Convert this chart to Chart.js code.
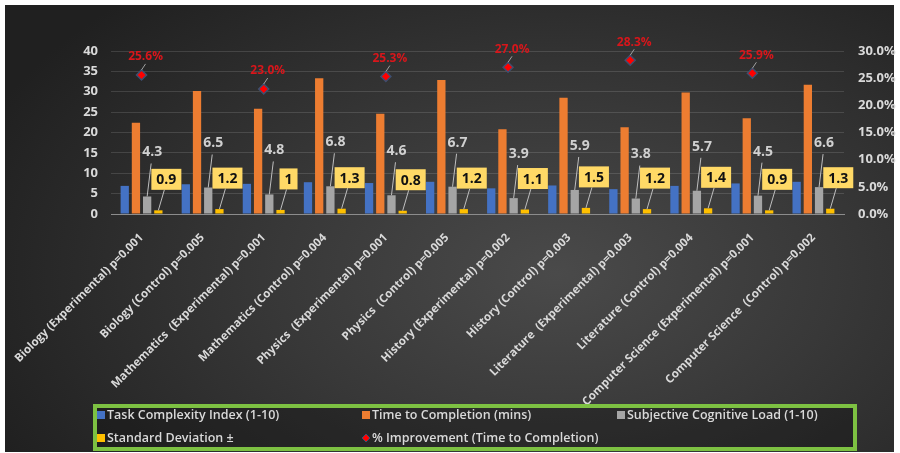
<!DOCTYPE html>
<html>
<head>
<meta charset="utf-8">
<script src="https://cdn.jsdelivr.net/npm/chart.js@4.4.1/dist/chart.umd.min.js"></script>
<style>
    html, body { margin: 0; padding: 0; background: #fff; }
    #wrap { position: relative; width: 900px; height: 453px; }
    #panel {
        position: absolute; left: 5px; top: 5px; width: 889px; height: 447px;
        background: radial-gradient(ellipse 70% 85% at 62% 60%, #4a4a4a 0%, #383838 45%, #202020 100%);
    }
    canvas { position: absolute; left: 0; top: 0; }
</style>
</head>
<body>
<div id="wrap">
    <div id="panel"></div>
    <canvas id="studyChart" width="900" height="453"></canvas>
</div>
<script>
const categories = [
    'Biology (Experimental) p=0.001',
    'Biology (Control) p=0.005',
    'Mathematics  (Experimental) p=0.001',
    'Mathematics (Control) p=0.004',
    'Physics  (Experimental) p=0.001',
    'Physics  (Control) p=0.005',
    'History (Experimental) p=0.002',
    'History (Control) p=0.003',
    'Literature  (Experimental) p=0.003',
    'Literature (Control) p=0.004',
    'Computer Science (Experimental) p=0.001',
    'Computer Science  (Control) p=0.002'
];
const taskComplexity = [6.9, 7.3, 7.4, 7.8, 7.6, 7.9, 6.3, 7.0, 6.1, 6.9, 7.5, 7.9];
const timeToCompletion = [22.4, 30.2, 25.8, 33.3, 24.6, 32.9, 20.8, 28.5, 21.3, 29.8, 23.5, 31.7];
const cognitiveLoad = [4.3, 6.5, 4.8, 6.8, 4.6, 6.7, 3.9, 5.9, 3.8, 5.7, 4.5, 6.6];
const stdDeviation = [0.9, 1.2, 1, 1.3, 0.8, 1.2, 1.1, 1.5, 1.2, 1.4, 0.9, 1.3];
// only experimental groups carry an improvement value
const improvement = [25.6, null, 23.0, null, 25.3, null, 27.0, null, 28.3, null, 25.9, null];

const FONT = '"Open Sans", sans-serif';
const TEXT_COLOR = '#d9d9d9';

// value labels with leader lines (gray load, yellow std dev boxes, red %)
const valueLabels = {
    id: 'valueLabels',
    afterDatasetsDraw(chart) {
        const ctx = chart.ctx;
        ctx.save();
        ctx.lineWidth = 1;
        ctx.textAlign = 'center';
        ctx.textBaseline = 'middle';

        chart.getDatasetMeta(2).data.forEach((bar, i) => {
            const tx = bar.x + 5, ty = bar.y - 44;
            ctx.strokeStyle = '#bfbfbf';
            ctx.beginPath();
            ctx.moveTo(bar.x, bar.y);
            ctx.lineTo(tx - 1, ty + 11);
            ctx.stroke();
            ctx.font = 'bold 14px ' + FONT;
            ctx.fillStyle = '#d0d0d0';
            ctx.fillText(String(cognitiveLoad[i]), tx, ty);
        });

        chart.getDatasetMeta(3).data.forEach((bar, i) => {
            const text = String(stdDeviation[i]);
            ctx.font = 'bold 14px ' + FONT;
            const w = ctx.measureText(text).width + 10, h = 21;
            const cx = bar.x + 8, cy = bar.y - 31;
            ctx.strokeStyle = '#bfbfbf';
            ctx.beginPath();
            ctx.moveTo(bar.x, bar.y);
            ctx.lineTo(cx - 2, cy + h / 2);
            ctx.stroke();
            ctx.fillStyle = '#ffd966';
            ctx.fillRect(cx - w / 2, cy - h / 2, w, h);
            ctx.fillStyle = '#111';
            ctx.fillText(text, cx, cy + 1);
        });

        chart.getDatasetMeta(4).data.forEach((pt, i) => {
            if (improvement[i] === null) return;
            const tx = pt.x + 4, ty = pt.y - 18;
            ctx.strokeStyle = '#a0a0a0';
            ctx.beginPath();
            ctx.moveTo(pt.x, pt.y - 5);
            ctx.lineTo(tx, ty + 7);
            ctx.stroke();
            ctx.font = 'bold 12px ' + FONT;
            ctx.fillStyle = '#d8161b';
            ctx.fillText(improvement[i].toFixed(1) + '%', tx, ty);
        });
        ctx.restore();
    }
};

// legend in a green framed box, three columns
const boxLegend = {
    id: 'boxLegend',
    afterDraw(chart) {
        const ctx = chart.ctx;
        const box = { x: 95, y: 406, w: 760, h: 43 };
        const cols = [97, 362, 617];
        const rows = [415, 438];
        ctx.save();
        ctx.fillStyle = 'rgba(15,15,15,0.35)';
        ctx.fillRect(box.x, box.y, box.w, box.h);
        ctx.strokeStyle = '#7dc142';
        ctx.lineWidth = 4;
        ctx.strokeRect(box.x, box.y, box.w, box.h);

        ctx.font = '600 12.5px ' + FONT;
        ctx.textBaseline = 'middle';
        ctx.textAlign = 'left';
        chart.data.datasets.forEach((ds, i) => {
            const x = cols[i % 3], y = rows[Math.floor(i / 3)];
            if (ds.type === 'line') {
                ctx.fillStyle = ds.backgroundColor;
                ctx.strokeStyle = ds.borderColor;
                ctx.lineWidth = 1;
                ctx.beginPath();
                ctx.moveTo(x + 4, y - 4);
                ctx.lineTo(x + 8, y);
                ctx.lineTo(x + 4, y + 4);
                ctx.lineTo(x, y);
                ctx.closePath();
                ctx.fill();
                ctx.stroke();
            } else {
                ctx.fillStyle = ds.backgroundColor;
                ctx.fillRect(x, y - 4, 8, 8);
            }
            ctx.fillStyle = TEXT_COLOR;
            ctx.fillText(ds.label, x + 10, y);
        });
        ctx.restore();
    }
};

const ctx = document.getElementById('studyChart').getContext('2d');

new Chart(ctx, {
    type: 'bar',
    data: {
        labels: categories,
        datasets: [
            { label: 'Task Complexity Index (1-10)', data: taskComplexity, backgroundColor: '#4472c4', order: 1 },
            { label: 'Time to Completion (mins)', data: timeToCompletion, backgroundColor: '#ed7d31', order: 1 },
            { label: 'Subjective Cognitive Load (1-10)', data: cognitiveLoad, backgroundColor: '#a5a5a5', order: 1 },
            { label: 'Standard Deviation ±', data: stdDeviation, backgroundColor: '#ffc000', order: 1 },
            {
                type: 'line',
                label: '% Improvement (Time to Completion)',
                data: improvement,
                yAxisID: 'y1',
                showLine: false,
                pointStyle: 'rectRot',
                pointRadius: 5,
                backgroundColor: '#ff0000',
                borderColor: '#3d4f70',
                borderWidth: 1.5,
                order: 0
            }
        ]
    },
    options: {
        responsive: false,
        animation: false,
        categoryPercentage: 0.734,
        barPercentage: 0.74,
        layout: { padding: { top: 51, left: 0, right: 0, bottom: 0 } },
        plugins: {
            legend: { display: false },
            tooltip: { enabled: false }
        },
        scales: {
            x: {
                grid: { display: false },
                border: { display: true, color: '#8c8c8c', width: 1 },
                ticks: {
                    autoSkip: false,
                    minRotation: 45,
                    maxRotation: 45,
                    padding: 9,
                    color: TEXT_COLOR,
                    font: { family: FONT, size: 11.5, weight: 'bold' }
                },
                afterFit: scale => { scale.height = 239; }
            },
            y: {
                position: 'left',
                min: 0,
                max: 40,
                grid: { color: 'rgba(255,255,255,0.13)', drawTicks: false },
                border: { display: false },
                ticks: {
                    stepSize: 5,
                    padding: 13,
                    color: TEXT_COLOR,
                    font: { family: FONT, size: 13, weight: 'bold' }
                },
                afterFit: scale => { scale.width = 111; }
            },
            y1: {
                position: 'right',
                min: 0,
                max: 30,
                grid: { drawOnChartArea: false, drawTicks: false },
                border: { display: false },
                ticks: {
                    stepSize: 5,
                    padding: 14,
                    color: TEXT_COLOR,
                    font: { family: FONT, size: 13, weight: 'bold' },
                    callback: v => v.toFixed(1) + '%'
                },
                afterFit: scale => { scale.width = 56; }
            }
        }
    },
    plugins: [valueLabels, boxLegend]
});
</script>
</body>
</html>
